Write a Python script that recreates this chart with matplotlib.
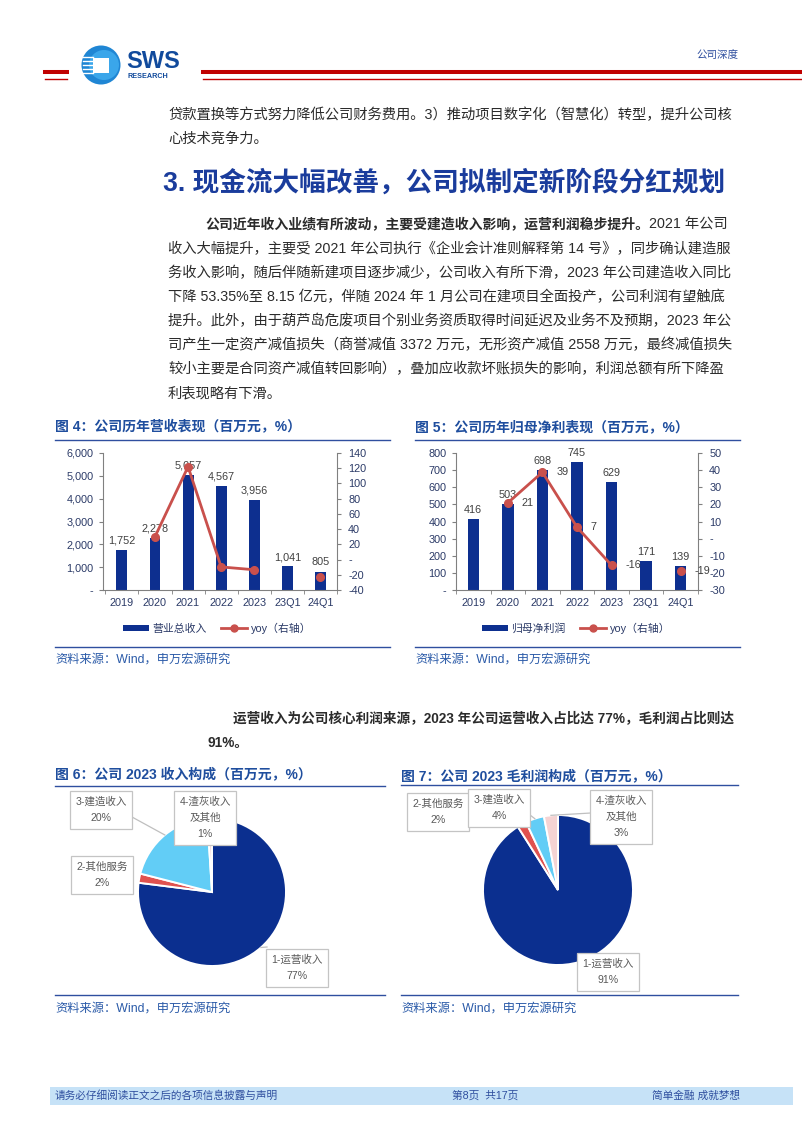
"""Research-report page: revenue / net-profit bar+line charts and 2023 composition pies."""
import matplotlib
matplotlib.use("Agg")
import matplotlib.pyplot as plt
from matplotlib.patches import Rectangle, Circle
from matplotlib.lines import Line2D
import numpy as np

plt.rcParams['font.family'] = ['Liberation Sans', 'Noto Sans CJK SC', 'DejaVu Sans']
plt.rcParams['axes.unicode_minus'] = False

# ---- data -------------------------------------------------------------
periods = ['2019', '2020', '2021', '2022', '2023', '23Q1', '24Q1']
revenue = [1752, 2278, 5057, 4567, 3956, 1041, 805]
revenue_yoy = [np.nan, 30.0, 122.0, -9.7, -13.4, np.nan, -22.7]
net_profit = [416, 503, 698, 745, 629, 171, 139]
profit_yoy = [np.nan, 20.9, 38.8, 6.7, -15.6, np.nan, -18.7]

pie_labels = ['1-运营收入', '2-其他服务', '3-建造收入', '4-渣灰收入\n及其他']
revenue_share = [77, 2, 20, 1]
gross_profit_share = [91, 2, 4, 3]

# ---- style ------------------------------------------------------------
W, H = 802, 1133
BAR = '#0d2f8f'
LINE = '#c9504c'
PIE_COLORS = ['#0b2f8f', '#e0524f', '#62cdf6', '#f5d3d3']
TITLE = '#1f4e9e'
HEAD = '#1a3c9c'
NAVY = '#2f4f9f'
TXT = '#2b2b2b'
TICK = '#2b3a67'
LBL = '#404040'

fig = plt.figure(figsize=(W / 100, H / 100), dpi=100)
bg = fig.add_axes([0, 0, 1, 1])
bg.set_xlim(0, W)
bg.set_ylim(H, 0)
bg.axis('off')


def box(x0, y0, x1, y1):
    return fig.add_axes([x0 / W, 1 - y1 / H, (x1 - x0) / W, (y1 - y0) / H])


def hline(x0, x1, y, color=NAVY, lw=1.0):
    bg.add_line(Line2D([x0, x1], [y, y], color=color, lw=lw))


# ---- header -----------------------------------------------------------
hline(45, 67, 71.5, '#c00000', 2.9)
hline(45, 67, 78.5, '#c00000', 1.0)
hline(203, 802, 71.5, '#c00000', 2.9)
hline(203, 802, 78.5, '#c00000', 1.0)
bg.add_patch(Circle((101, 65), 19.5, fc='#1f86d4', ec='none'))
bg.add_patch(Circle((104, 65), 15, fc='#3aa6ea', ec='none'))
for yy in (57, 61, 65, 69, 73):
    bg.add_line(Line2D([83, 93], [yy, yy], color='white', lw=1.0))
bg.add_patch(Rectangle((93, 58), 16, 15, fc='white', ec='none'))
bg.text(126, 62, 'SWS', fontsize=17, fontweight='bold', color='#114a9c',
        ha='left', va='center', family='Liberation Sans')
bg.text(128, 76.5, 'RESEARCH', fontsize=5.2, fontweight='bold', color='#114a9c',
        ha='left', va='center', family='Liberation Sans')
bg.text(738, 55, '公司深度', fontsize=7.6, color=NAVY, ha='right', va='center')

# ---- body text ----------------------------------------------------------
BODY = 10.3
bg.text(168, 115, '贷款置换等方式努力降低公司财务费用。3）推动项目数字化（智慧化）转型，提升公司核',
        fontsize=BODY, color=TXT, va='center')
bg.text(168, 139, '心技术竞争力。', fontsize=BODY, color=TXT, va='center')
bg.text(163, 183, '3. 现金流大幅改善，公司拟制定新阶段分红规划', fontsize=19.2,
        fontweight='bold', color=HEAD, va='center')

t_bold = bg.text(205, 225, '公司近年收入业绩有所波动，主要受建造收入影响，运营利润稳步提升。',
                 fontsize=10.0, fontweight='bold', color=TXT, va='center')
bg.annotate('2021 年公司', xy=(1, 0.5), xycoords=t_bold, fontsize=BODY, color=TXT,
            va='center', ha='left')
para = [
    '收入大幅提升，主要受 2021 年公司执行《企业会计准则解释第 14 号》，同步确认建造服',
    '务收入影响，随后伴随新建项目逐步减少，公司收入有所下滑，2023 年公司建造收入同比',
    '下降 53.35%至 8.15 亿元，伴随 2024 年 1 月公司在建项目全面投产，公司利润有望触底',
    '提升。此外，由于葫芦岛危废项目个别业务资质取得时间延迟及业务不及预期，2023 年公',
    '司产生一定资产减值损失（商誉减值 3372 万元，无形资产减值 2558 万元，最终减值损失',
    '较小主要是合同资产减值转回影响），叠加应收款坏账损失的影响，利润总额有所下降盈',
    '利表现略有下滑。',
]
for k, line in enumerate(para):
    bg.text(168, 249 + 24 * k, line, fontsize=BODY, color=TXT, va='center')

bg.text(233, 719, '运营收入为公司核心利润来源，2023 年公司运营收入占比达 77%，毛利润占比则达',
        fontsize=9.8, fontweight='bold', color=TXT, va='center')
bg.text(208, 743, '91%。', fontsize=9.8, fontweight='bold', color=TXT, va='center')


# ---- bar + line charts -----------------------------------------------------
def fmt_left(v, _):
    return '-' if abs(v) < 1e-9 else f'{v:,.0f}'


def fmt_right(v, _):
    return '-' if abs(v) < 1e-9 else f'{v:.0f}'


def bar_line(rect, values, yoy, lim_l, step_l, lim_r, step_r, xlim, label_yoy):
    ax = box(*rect)
    x = np.arange(len(periods))
    ax.bar(x, values, width=0.33, color=BAR, zorder=2)
    for xi, v in zip(x, values):
        ax.annotate(f'{v:,}', (xi, v), xytext=(0, 3), textcoords='offset points',
                    ha='center', va='bottom', fontsize=7.8, color=LBL, zorder=5)
    ax.set_xlim(*xlim)
    ax.set_ylim(*lim_l)
    ax.set_yticks(np.arange(lim_l[0], lim_l[1] + 1, step_l))
    ax.yaxis.set_major_formatter(plt.FuncFormatter(fmt_left))
    ax.set_xticks(x)
    ax.set_xticklabels(periods)
    ax.set_xticks(np.arange(-0.5, len(periods)), minor=True)
    ax.tick_params(axis='x', which='major', length=0, pad=6, labelsize=7.8, labelcolor=TICK)
    ax.tick_params(axis='x', which='minor', length=3, color='#808080')
    ax.tick_params(axis='y', length=3, pad=4, labelsize=7.8, labelcolor=TICK, color='#808080')
    for s in ('top', 'right'):
        ax.spines[s].set_visible(False)
    for s in ('left', 'bottom'):
        ax.spines[s].set_color('#808080')
        ax.spines[s].set_linewidth(0.8)
    ax.patch.set_alpha(0)

    ax2 = ax.twinx()
    ax2.plot(x, yoy, color=LINE, lw=2.0, marker='o', ms=5.5, zorder=4)
    ax2.set_ylim(*lim_r)
    ax2.set_yticks(np.arange(lim_r[0], lim_r[1] + 1, step_r))
    ax2.yaxis.set_major_formatter(plt.FuncFormatter(fmt_right))
    ax2.tick_params(axis='y', length=3, pad=5, labelsize=7.8, labelcolor=TICK, color='#808080')
    for s in ('top', 'left', 'bottom'):
        ax2.spines[s].set_visible(False)
    ax2.spines['right'].set_color('#808080')
    ax2.spines['right'].set_linewidth(0.8)
    if label_yoy:
        for xi, v in zip(x, yoy):
            if not np.isnan(v):
                ax2.annotate(f'{v:.0f}', (xi, v), xytext=(10, 0), textcoords='offset points',
                             ha='left', va='center', fontsize=7.8, color=LBL, zorder=6)
    return ax


def legend(cx, label):
    handles = [Rectangle((0, 0), 1, 1, fc=BAR, ec='none'),
               Line2D([], [], color=LINE, lw=2.0, marker='o', ms=5)]
    fig.legend(handles, [label, 'yoy（右轴）'], loc='center',
               bbox_to_anchor=(cx / W, 1 - 628 / H), ncol=2, frameon=False,
               fontsize=7.8, handlelength=2.4, handleheight=0.55, columnspacing=1.4,
               handletextpad=0.3, labelcolor=TICK)


def chart_frame(x0, x1, y_title, y_rule, y_src_rule, y_src, title):
    bg.text(x0, y_title, title, fontsize=10, fontweight='bold', color=TITLE, va='center')
    hline(x0, x1, y_rule)
    hline(x0, x1, y_src_rule)
    bg.text(x0, y_src, '资料来源：Wind，申万宏源研究', fontsize=8.8, color='#2a5aa8', va='center')


chart_frame(55, 390, 427, 440, 647, 660, '图 4：公司历年营收表现（百万元，%）')
bar_line((103, 453, 337, 590), revenue, revenue_yoy, (0, 6000), 1000, (-40, 140), 20,
         (-0.57, 6.48), False)
legend(217, '营业总收入')

chart_frame(415, 740, 427, 440, 647, 660, '图 5：公司历年归母净利表现（百万元，%）')
bar_line((456, 453, 698, 590), net_profit, profit_yoy, (0, 800), 100, (-30, 50), 10,
         (-0.49, 6.47), True)
legend(576, '归母净利润')

# ---- pies --------------------------------------------------------------------
chart_frame(55, 385, 775, 786, 995, 1009, '图 6：公司 2023 收入构成（百万元，%）')
chart_frame(401, 738, 776, 785, 995, 1009, '图 7：公司 2023 毛利润构成（百万元，%）')

# overlay for pie labels so the boxes sit above the pies
top = fig.add_axes([0, 0, 1, 1], zorder=10)
top.set_xlim(0, W)
top.set_ylim(H, 0)
top.axis('off')


def pie(cx, cy, r, shares, boxes, leaders):
    ax = box(cx - r, cy - r, cx + r, cy + r)
    wedges, _ = ax.pie(shares, colors=PIE_COLORS, startangle=90, counterclock=False,
                       radius=1, wedgeprops=dict(edgecolor='white', linewidth=1.4))
    ax.set_xlim(-1, 1)
    ax.set_ylim(-1, 1)
    ax.set_aspect('equal')
    ax.axis('off')
    for i, (bx, by) in leaders.items():
        w = wedges[i]
        a = np.deg2rad((w.theta1 + w.theta2) / 2)
        ex, ey = cx + r * np.cos(a), cy - r * np.sin(a)
        top.add_line(Line2D([bx, ex], [by, ey], color='#bfbfbf', lw=0.9, zorder=1))
    for i, (bx, by) in boxes.items():
        top.text(bx, by, f'{pie_labels[i]}\n{shares[i]}%', ha='center', va='center',
                 fontsize=7.6, color='#595959', linespacing=1.75, zorder=6,
                 bbox=dict(boxstyle='square,pad=0.55', fc='white', ec='#c4c4c4', lw=0.9))


pie(212, 892, 74, revenue_share,
    {0: (297, 968), 1: (102, 875), 2: (101, 810), 3: (205, 818)},
    {0: (267, 947), 2: (132, 817)})
pie(558, 890, 75, gross_profit_share,
    {0: (608, 972), 1: (438, 812), 2: (499, 808), 3: (621, 817)},
    {2: (530, 815), 3: (591, 813)})

# ---- footer -------------------------------------------------------------------
bg.add_patch(Rectangle((50, 1087), 743, 18, fc='#c6e2f7', ec='none'))
bg.text(55, 1096, '请务必仔细阅读正文之后的各项信息披露与声明', fontsize=7.7, color=NAVY, va='center')
bg.text(452, 1096, '第8页  共17页', fontsize=7.7, color=NAVY, va='center')
bg.text(740, 1096, '简单金融 成就梦想', fontsize=7.7, color=NAVY, va='center', ha='right')

fig.savefig('out.png', dpi=100)
